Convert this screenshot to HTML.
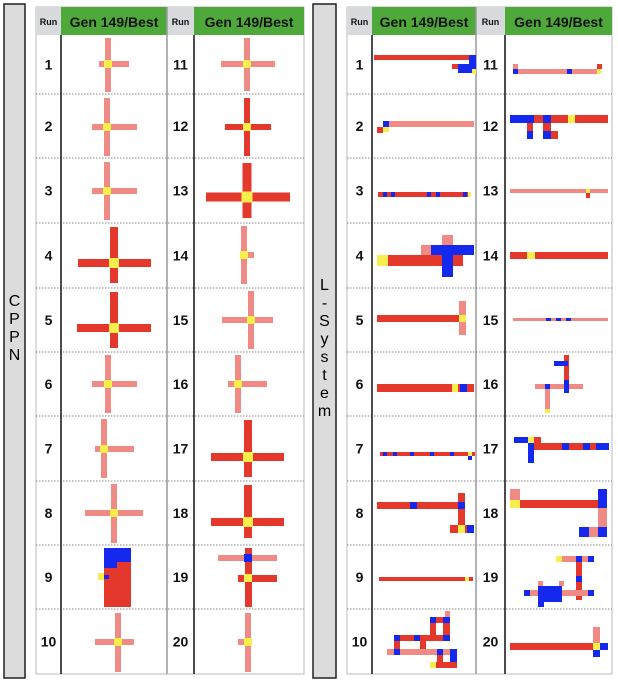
<!DOCTYPE html>
<html><head><meta charset="utf-8"><style>
html,body{margin:0;padding:0;background:#fff}
svg{display:block}
text{font-family:"Liberation Sans",sans-serif}
</style></head><body>
<svg id="fig" width="618" height="680" viewBox="0 0 618 680" xmlns="http://www.w3.org/2000/svg">
<rect x="4" y="4" width="21" height="674" fill="#dcdcdc" stroke="#222" stroke-width="1.5"/>
<text x="14.5" font-size="16" text-anchor="middle"><tspan x="14.5" y="306">C</tspan><tspan x="14.5" y="324">P</tspan><tspan x="14.5" y="342">P</tspan><tspan x="14.5" y="360">N</tspan></text>
<rect x="313" y="4" width="23" height="674" fill="#dcdcdc" stroke="#222" stroke-width="1.5"/>
<text font-size="16" text-anchor="middle"><tspan x="324.5" y="290">L</tspan><tspan x="324.5" y="308">-</tspan><tspan x="324.5" y="326">S</tspan><tspan x="324.5" y="344">y</tspan><tspan x="324.5" y="362">s</tspan><tspan x="324.5" y="380">t</tspan><tspan x="324.5" y="398">e</tspan><tspan x="324.5" y="416">m</tspan></text>
<g id="tables"></g>
<g id="morphs"></g>
</svg>
<script>
const NS='http://www.w3.org/2000/svg';
const rowTops=[35,94,158,223,288,352,416,481,545,609];
const rowBottom=674;
const panels=[{x:[36,61,167,194,304]},{x:[347,372,476,505,612]}];
const C={p:'#f08a84',d:'#e5382c',y:'#f6ee4c',b:'#1428ee'};
// CPPN crosses: [cx,cy,up,down,left,right,width,tone]
const crossRuns=[
[108,64,26,28,9,21,6,'p'],[107,127,29,29,15,30,6,'p'],[107,191,29,29,15,30,6,'p'],
[114,263,36,20,36,37,8,'d'],[114,328,36,20,37,37,8,'d'],[108,384,29,29,16,29,6,'p'],
[104,449,30,29,9,30,6,'p'],[114,513,29,30,29,29,6,'p'],null,[118,642,29,30,23,16,6,'p'],
[247,64,26,27,26,28,6,'p'],[247,127,29,29,22,24,6,'d'],[247,197,34,21,41,43,9,'d'],
[244,255,29,29,3,10,6,'p'],[251,320,29,29,29,22,6,'p'],[238,384,29,29,10,29,6,'p'],
[248,457,37,20,37,36,8,'d'],[248,522,37,16,37,36,8,'d'],null,[248,642,29,30,10,0,6,'p']];
// free-form morphologies: [x,y,w,h,color]
const blockRuns={
9:[[104,548,27,30,'b'],[104,568,27,39,'d'],[117,560,14,10,'d'],[104,548,27,14,'b'],[98,573,6,7,'y'],[104,575,5,4,'b']],
19:[[245,548,7,59,'d'],[218,555,59,6,'p'],[238,575,39,7,'d'],[244,554,8,8,'b'],[244,574,8,8,'y']],
101:[[374,55,98,5,'d'],[469,55,7,18,'b'],[458,64,18,9,'b'],[452,64,6,5,'d'],[472,69,4,5,'y']],
111:[[513,69,88,5,'p'],[513,69,5,5,'b'],[567,69,5,5,'b'],[513,64,5,5,'p'],[597,64,5,5,'d'],[597,69,4,5,'y']],
102:[[383,121,91,6,'p'],[383,121,6,6,'b'],[377,127,6,6,'d'],[383,127,6,5,'y']],
112:[[510,115,98,8,'d'],[510,115,24,8,'b'],[543,115,8,8,'b'],[568,115,7,8,'y'],[527,123,6,8,'d'],[527,131,6,8,'b'],[543,123,8,8,'d'],[543,131,8,8,'b'],[551,131,7,8,'d']],
103:[[378,192,93,5,'d'],[383,192,4,5,'b'],[391,192,4,5,'b'],[427,192,4,5,'b'],[436,192,4,5,'b'],[463,192,4,5,'b'],[468,192,3,5,'y']],
113:[[510,189,98,4,'p'],[586,189,4,4,'y'],[586,193,4,5,'d']],
104:[[377,255,86,11,'d'],[377,255,11,11,'y'],[421,245,10,10,'p'],[431,245,43,10,'b'],[442,235,11,10,'p'],[442,245,11,32,'b']],
114:[[510,252,98,7,'d'],[527,252,8,7,'y']],
105:[[377,315,83,7,'d'],[459,301,7,34,'p'],[459,315,7,7,'y']],
115:[[513,318,95,3,'p'],[546,318,5,3,'b'],[556,318,5,3,'b'],[566,318,5,3,'b']],
106:[[377,384,97,8,'d'],[452,384,6,8,'y'],[460,384,7,8,'b']],
116:[[535,384,48,5,'p'],[564,355,5,38,'d'],[554,361,14,5,'b'],[564,380,5,13,'b'],[545,384,5,5,'b'],[545,389,5,24,'p'],[545,409,5,4,'y']],
107:[[380,452,95,4,'d'],[383,452,4,4,'b'],[393,452,4,4,'b'],[410,452,4,4,'b'],[430,452,4,4,'b'],[450,452,4,4,'b'],[468,452,4,4,'y'],[468,456,4,4,'b']],
117:[[532,443,77,7,'d'],[514,437,14,6,'b'],[528,437,6,6,'y'],[534,437,7,6,'d'],[528,443,6,20,'b'],[562,443,7,7,'b'],[583,443,7,7,'b'],[596,443,7,7,'b'],[603,443,6,7,'b']],
108:[[377,502,88,7,'d'],[410,502,7,7,'b'],[458,493,7,40,'d'],[458,502,7,7,'b'],[450,525,24,8,'d'],[458,525,7,8,'y'],[467,525,7,8,'b']],
118:[[510,500,97,8,'d'],[510,489,10,11,'p'],[510,500,10,8,'y'],[598,489,9,19,'b'],[598,508,9,29,'p'],[579,527,28,10,'p'],[579,527,10,10,'b'],[598,527,9,10,'b']],
109:[[379,577,94,4,'d'],[465,577,4,4,'y']],
119:[[556,556,38,6,'p'],[556,556,6,6,'y'],[576,556,6,6,'b'],[588,556,6,6,'b'],[576,562,6,38,'d'],[576,576,6,6,'b'],[524,590,70,6,'p'],[524,590,6,6,'b'],[538,586,24,16,'b'],[538,602,6,5,'b'],[588,590,6,6,'b'],[538,581,5,5,'p'],[559,581,5,5,'p']],
110:[[445,611,5,6,'p'],[430,617,20,6,'d'],[430,617,6,6,'b'],[443,617,7,6,'b'],[394,635,56,6,'d'],[394,635,6,6,'b'],[414,635,6,6,'b'],[443,623,7,18,'d'],[443,635,7,6,'b'],[430,623,6,12,'d'],[387,649,70,6,'p'],[394,641,6,14,'d'],[394,649,6,6,'b'],[420,641,6,8,'d'],[437,649,6,6,'b'],[450,649,7,6,'b'],[437,655,6,13,'d'],[450,655,7,13,'b'],[430,662,27,6,'d'],[430,662,6,6,'y']],
120:[[510,643,98,7,'d'],[593,627,7,30,'p'],[593,643,7,7,'y'],[600,643,8,7,'b'],[593,650,7,7,'b']]
};
const runLabels=[[1,2,3,4,5,6,7,8,9,10],[11,12,13,14,15,16,17,18,19,20]];
function el(tag,a,p){const e=document.createElementNS(NS,tag);for(const k in a)e.setAttribute(k,a[k]);p.appendChild(e);return e;}
const tg=document.getElementById('tables');
panels.forEach((P,pi)=>{
  const xs=P.x;
  const bg=el('rect',{x:xs[0],y:7,width:xs[4]-xs[0],height:rowBottom-7,fill:'#fff',stroke:'#bbb','stroke-width':1},tg);
  
  
  [[0,1],[2,3]].forEach(([a,b],ci)=>{
    const h1=el('rect',{x:xs[a],y:7,width:xs[b]-xs[a],height:28,fill:'#d9dadd'},tg);
    
    
    const t1=el('text',{x:(xs[a]+xs[b])/2,y:25,'font-size':9,'font-weight':'bold','text-anchor':'middle',fill:'#111'},tg);t1.textContent='Run';
    
    
    const h2=el('rect',{x:xs[b],y:7,width:xs[b+1]-xs[b],height:28,fill:'#4fa83a'},tg);
    
    
    const t2=el('text',{x:(xs[b]+xs[b+1])/2,y:27,'font-size':14,'font-weight':'bold','text-anchor':'middle',fill:'#111'},tg);t2.textContent='Gen 149/Best';
    
    
    runLabels[ci].forEach((r,ri)=>{
      const y0=rowTops[ri],y1=ri<9?rowTops[ri+1]:rowBottom;
      const t=el('text',{x:(xs[a]+xs[b])/2,y:(y0+y1)/2+5,'font-size':14,'font-weight':'bold','text-anchor':'middle',fill:'#111'},tg);
      t.textContent=r;
      
      
    });
  });
  for(let i=1;i<10;i++){el('line',{x1:xs[0],x2:xs[4],y1:rowTops[i],y2:rowTops[i],stroke:'#888','stroke-dasharray':'1.5 1.5','stroke-width':1},tg);}
  el('line',{x1:xs[2],x2:xs[2],y1:7,y2:rowBottom,stroke:'#999','stroke-width':1.5},tg);
  el('line',{x1:xs[1],x2:xs[1],y1:35,y2:rowBottom,stroke:'#111','stroke-width':1.5},tg);
  el('line',{x1:xs[3],x2:xs[3],y1:35,y2:rowBottom,stroke:'#111','stroke-width':1.5},tg);
});
const mg=document.getElementById('morphs');
function rect(x,y,w,h,c,name){const r=el('rect',{x:x,y:y,width:w,height:h,fill:C[c]},mg);}
crossRuns.forEach((m,i)=>{
  if(!m)return;
  const [cx,cy,u,d,l,r,w,t]=m,hw=w/2,n='cppn-run-'+(i+1);
  rect(cx-hw,cy-u,w,u+d,t,n+'-vertical-arm');
  rect(cx-l,cy-hw,l+r,w,t,n+'-horizontal-arm');
  rect(cx-hw-1,cy-hw-1,w+2,w+2,'y',n+'-core');
});
Object.keys(blockRuns).forEach(k=>{
  const id=+k, name=id>100?'lsystem-run-'+(id-100):'cppn-run-'+id;
  blockRuns[k].forEach((b,j)=>rect(b[0],b[1],b[2],b[3],b[4],name+'-block'));
});
</script>
</body></html>
